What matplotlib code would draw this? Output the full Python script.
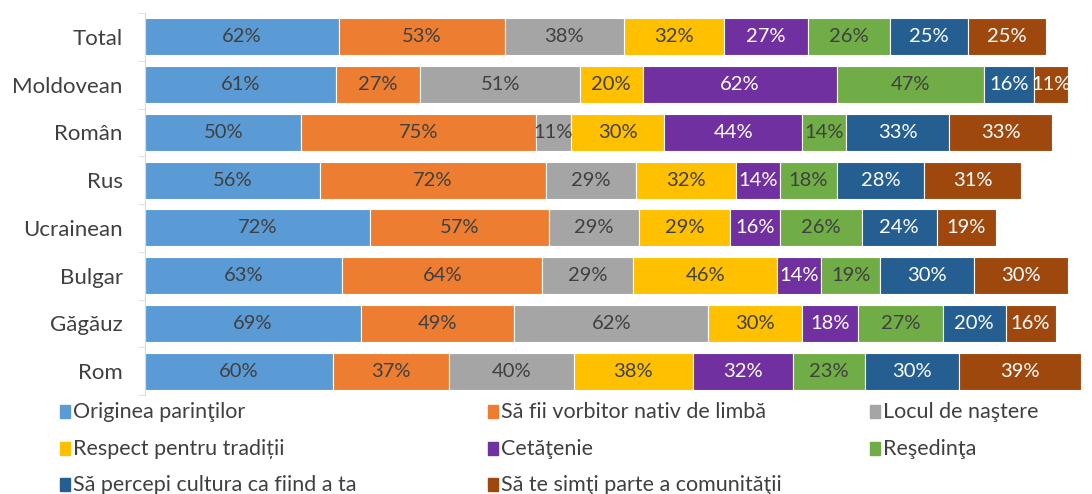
import numpy as np
import matplotlib.pyplot as plt
from matplotlib.patches import Rectangle

plt.rcParams['font.family'] = ['Lato', 'DejaVu Sans']

# Date
grupuri = ['Total', 'Moldovean', 'Român', 'Rus', 'Ucrainean', 'Bulgar', 'Găgăuz', 'Rom']
criterii = ['Originea parinţilor', 'Să fii vorbitor nativ de limbă', 'Locul de naştere',
            'Respect pentru tradiții', 'Cetăţenie', 'Reşedinţa',
            'Să percepi cultura ca fiind a ta', 'Să te simţi parte a comunităţii']
originea = [62, 61, 50, 56, 72, 63, 69, 60]
vorbitor = [53, 27, 75, 72, 57, 64, 49, 37]
locul = [38, 51, 11, 29, 29, 29, 62, 40]
respect = [32, 20, 30, 32, 29, 46, 30, 38]
cetatenie = [27, 62, 44, 14, 16, 14, 18, 32]
resedinta = [26, 47, 14, 18, 26, 19, 27, 23]
cultura = [25, 16, 33, 28, 24, 30, 20, 30]
comunitate = [25, 11, 33, 31, 19, 30, 16, 39]

serii = [originea, vorbitor, locul, respect, cetatenie, resedinta, cultura, comunitate]
culori = ['#5B9BD5', '#ED7D31', '#A5A5A5', '#FFC000', '#7030A0', '#70AD47', '#255E91', '#9E480E']
culori_text = ['#404040', '#404040', '#404040', '#404040', 'white', '#404040', 'white', 'white']

fig = plt.figure(figsize=(10.92, 4.94), dpi=100)
ax = fig.add_axes([145 / 1092, 1 - 395 / 494, (1090 - 145) / 1092, (395 - 13) / 494])

y = np.arange(len(grupuri))
stanga = np.zeros(len(grupuri))
for val, c, ct in zip(serii, culori, culori_text):
    val = np.array(val)
    bare = ax.barh(y, val, left=stanga, height=0.78, color=c, edgecolor='white', linewidth=0.8)
    ax.bar_label(bare, labels=[f'{v}%' for v in val], label_type='center',
                 color=ct, fontsize=14.5)
    stanga += val

ax.set_xlim(0, 302)
ax.set_ylim(len(grupuri) - 0.5, -0.5)
ax.set_yticks(y)
ax.set_yticklabels(grupuri, fontsize=16, color='#404040')
ax.tick_params(axis='y', length=0, pad=16)
ax.set_yticks(np.arange(-0.5, len(grupuri)), minor=True)
ax.tick_params(axis='y', which='minor', length=5, color='#D9D9D9')
ax.set_xticks([])
for s in ['top', 'right', 'bottom']:
    ax.spines[s].set_visible(False)
ax.spines['left'].set_color('#D9D9D9')

# legenda
col_x = [60, 488, 870]
rand_y = [412, 449, 485]
for i, (nume, c) in enumerate(zip(criterii, culori)):
    px = col_x[i % 3]
    py = rand_y[i // 3]
    fig.patches.append(Rectangle((px / 1092, 1 - (py + 6) / 494), 10 / 1092, 13 / 494,
                                 transform=fig.transFigure, color=c))
    fig.text((px + 13) / 1092, 1 - py / 494, nume, fontsize=15.5, color='#404040', va='center')

fig.savefig('out.png', dpi=100)
